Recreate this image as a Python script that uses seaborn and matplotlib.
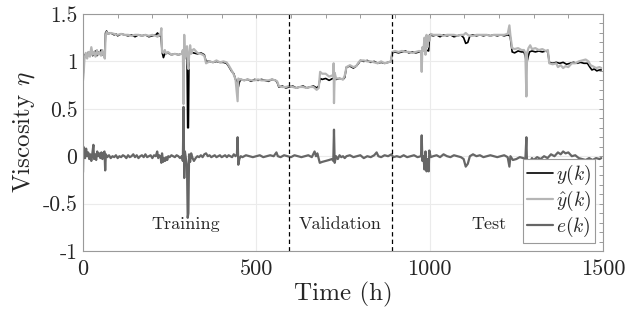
import matplotlib
matplotlib.use("Agg")
import matplotlib.pyplot as plt
import seaborn as sns
import pandas as pd
from matplotlib.ticker import MultipleLocator

# ---------------- data ----------------
t_y = [0, 2, 4, 8, 12, 16, 20, 24, 28, 32, 36, 40, 44, 48, 52, 56, 60, 63, 65, 68, 72,
       80, 90, 95, 100, 110, 120, 130, 140, 150, 160, 170, 180, 190, 200, 210, 215, 220,
       225, 228, 232, 236, 245, 255, 265, 275, 285, 295, 300, 302, 304, 306, 310, 318,
       330, 340, 350, 355, 365, 375, 385, 395, 405, 414, 420, 428, 435, 440, 446, 448,
       451, 455, 465, 475, 485, 495, 505, 515, 525, 535, 545, 555, 560, 565, 575, 585,
       595, 605, 615, 625, 635, 645, 655, 665, 674, 680, 684, 690, 700, 710, 720, 730,
       740, 750, 755, 760, 770, 780, 788, 795, 800, 810, 820, 830, 840, 850, 860, 870,
       880, 888, 892, 900, 910, 920, 930, 940, 950, 960, 970, 980, 990, 997, 1000, 1010,
       1020, 1030, 1040, 1050, 1060, 1070, 1080, 1090, 1098, 1104, 1110, 1116, 1125,
       1135, 1145, 1155, 1165, 1175, 1185, 1195, 1205, 1215, 1225, 1232, 1238, 1245,
       1255, 1265, 1272, 1276, 1280, 1284, 1288, 1295, 1305, 1315, 1325, 1335, 1341,
       1345, 1355, 1365, 1375, 1385, 1395, 1405, 1415, 1425, 1435, 1445, 1455, 1462,
       1468, 1475, 1482, 1490, 1495]
y = [0.85, 0.95, 1.06, 1.08, 1.05, 1.10, 1.07, 1.12, 1.06, 1.09, 1.11, 1.06, 1.10, 1.08,
     1.12, 1.07, 1.09, 1.10, 1.30, 1.32, 1.29, 1.30, 1.28, 1.29, 1.27, 1.29, 1.28, 1.27,
     1.28, 1.26, 1.28, 1.27, 1.28, 1.26, 1.27, 1.28, 1.30, 1.27, 1.28, 1.10, 1.04, 1.08,
     1.09, 1.07, 1.08, 1.07, 1.08, 1.08, 1.06, 0.30, 0.30, 1.08, 1.10, 1.09, 1.08, 1.09,
     1.07, 1.00, 1.00, 0.99, 1.00, 0.99, 0.99, 0.98, 0.95, 0.90, 0.87, 0.81, 0.78, 0.73,
     0.78, 0.81, 0.80, 0.81, 0.79, 0.81, 0.80, 0.81, 0.80, 0.79, 0.81, 0.80, 0.78, 0.73,
     0.74, 0.72, 0.73, 0.74, 0.72, 0.73, 0.74, 0.72, 0.73, 0.74, 0.72, 0.74, 0.82, 0.81,
     0.82, 0.80, 0.82, 0.81, 0.82, 0.81, 0.83, 0.94, 0.95, 0.93, 0.95, 0.98, 1.01, 1.00,
     1.01, 0.99, 1.00, 0.98, 0.99, 0.98, 0.99, 1.00, 1.09, 1.10, 1.09, 1.10, 1.11, 1.09,
     1.10, 1.09, 1.10, 1.11, 1.12, 1.11, 1.28, 1.27, 1.28, 1.26, 1.28, 1.27, 1.28, 1.26,
     1.27, 1.28, 1.25, 1.19, 1.20, 1.27, 1.28, 1.27, 1.28, 1.27, 1.28, 1.27, 1.28, 1.27,
     1.28, 1.27, 1.28, 1.27, 1.10, 1.09, 1.11, 1.10, 1.10, 1.05, 0.98, 1.05, 1.10, 1.11,
     1.10, 1.11, 1.10, 1.11, 1.10, 0.99, 0.98, 0.99, 0.98, 0.99, 0.97, 0.98, 0.99, 0.98,
     0.99, 0.98, 0.98, 0.94, 0.91, 0.92, 0.90, 0.91, 0.91]

t_yhat = [0, 2, 4, 8, 12, 16, 20, 24, 28, 32, 36, 40, 44, 48, 52, 56, 60, 63, 65, 68, 72,
          80, 90, 100, 110, 120, 130, 140, 150, 160, 170, 180, 190, 200, 210, 215, 220,
          224, 226, 228, 232, 236, 240, 245, 255, 265, 275, 285, 288, 290, 292, 294, 297,
          300, 302, 304, 306, 309, 312, 316, 320, 330, 340, 350, 355, 365, 375, 385, 395,
          405, 414, 420, 428, 435, 440, 446, 448, 451, 455, 465, 475, 485, 495, 505, 515,
          525, 535, 545, 555, 560, 565, 575, 585, 595, 605, 615, 625, 635, 645, 655, 665,
          674, 680, 684, 690, 700, 710, 718, 722, 723, 724, 726, 730, 740, 750, 755, 760,
          770, 780, 788, 795, 800, 810, 820, 830, 840, 850, 860, 870, 880, 888, 892, 900,
          910, 920, 930, 940, 950, 960, 970, 975, 977, 979, 982, 985, 988, 991, 994, 997,
          999, 1003, 1010, 1020, 1030, 1040, 1050, 1060, 1070, 1080, 1090, 1098, 1104,
          1110, 1116, 1125, 1135, 1145, 1155, 1165, 1175, 1185, 1195, 1205, 1215, 1225,
          1230, 1233, 1238, 1245, 1255, 1265, 1272, 1276, 1279, 1281, 1285, 1290, 1295,
          1305, 1315, 1325, 1335, 1341, 1345, 1355, 1365, 1370, 1378, 1385, 1392, 1400,
          1410, 1420, 1430, 1440, 1450, 1458, 1464, 1470, 1480, 1490, 1495]
yhat = [0.80, 0.88, 1.02, 1.09, 1.03, 1.10, 1.05, 1.15, 1.07, 1.10, 1.05, 1.12, 1.07,
        1.10, 1.06, 1.12, 1.06, 1.03, 1.26, 1.31, 1.29, 1.30, 1.29, 1.28, 1.29, 1.28,
        1.28, 1.27, 1.28, 1.28, 1.27, 1.28, 1.27, 1.28, 1.27, 1.26, 1.28, 1.29, 1.35,
        1.10, 1.09, 1.12, 1.08, 1.10, 1.07, 1.08, 1.07, 1.08, 1.12, 0.55, 1.28, 1.03,
        1.12, 1.16, 0.98, 0.92, 1.06, 1.17, 1.08, 1.12, 1.13, 1.09, 1.08, 1.06, 0.98,
        1.00, 0.99, 1.01, 0.99, 1.00, 0.99, 0.96, 0.91, 0.86, 0.81, 0.58, 0.82, 0.81,
        0.81, 0.80, 0.81, 0.80, 0.80, 0.81, 0.80, 0.80, 0.80, 0.81, 0.80, 0.79, 0.74,
        0.73, 0.73, 0.74, 0.73, 0.72, 0.73, 0.73, 0.72, 0.73, 0.73, 0.70, 0.72, 0.89,
        0.87, 0.87, 0.84, 0.85, 0.86, 0.98, 0.56, 0.88, 0.82, 0.82, 0.81, 0.85, 0.94,
        0.96, 0.94, 0.95, 0.99, 1.01, 1.01, 1.00, 1.00, 0.99, 0.98, 1.00, 0.98, 0.99,
        1.00, 1.10, 1.11, 1.10, 1.11, 1.10, 1.10, 1.09, 1.10, 1.11, 1.10, 0.89, 1.15,
        1.11, 1.25, 1.07, 1.28, 1.15, 1.27, 1.22, 1.29, 1.28, 1.28, 1.28, 1.27, 1.28,
        1.28, 1.28, 1.27, 1.28, 1.28, 1.30, 1.28, 1.27, 1.27, 1.28, 1.28, 1.28, 1.28,
        1.27, 1.28, 1.28, 1.28, 1.28, 1.29, 1.38, 1.27, 1.14, 1.13, 1.14, 1.12, 1.12,
        1.09, 0.63, 1.09, 1.14, 1.17, 1.13, 1.14, 1.12, 1.13, 1.11, 1.12, 0.98, 0.97,
        0.98, 0.94, 0.96, 0.93, 0.95, 0.94, 0.98, 0.98, 1.00, 1.01, 1.02, 1.00, 0.96,
        0.95, 0.93, 0.94, 0.93]

t_e = [0, 1, 3, 6, 9, 12, 15, 18, 21, 24, 27, 30, 32, 35, 38, 41, 44, 47, 50, 53, 56,
       59, 62, 64, 66, 70, 75, 80, 85, 90, 95, 100, 105, 110, 115, 120, 125, 130, 135,
       140, 145, 150, 155, 160, 165, 170, 175, 180, 185, 190, 195, 200, 205, 210, 214,
       217, 220, 224, 226, 228, 231, 234, 237, 240, 243, 246, 250, 255, 260, 265, 270,
       275, 280, 285, 288, 290, 292, 294, 297, 300, 302, 304, 306, 309, 312, 316, 320,
       325, 330, 335, 340, 345, 350, 355, 360, 365, 370, 375, 380, 385, 390, 395, 400,
       405, 410, 415, 420, 425, 430, 435, 440, 444, 446, 448, 451, 455, 460, 470, 480,
       490, 500, 510, 520, 530, 540, 550, 558, 562, 570, 580, 590, 600, 610, 620, 630,
       640, 650, 660, 668, 672, 676, 683, 690, 700, 710, 718, 722, 724, 726, 730, 735,
       740, 745, 750, 755, 760, 770, 780, 790, 800, 810, 820, 830, 840, 847, 852, 860,
       870, 880, 890, 895, 905, 915, 925, 935, 945, 955, 965, 975, 977, 979, 982, 985,
       988, 991, 994, 997, 999, 1003, 1010, 1020, 1030, 1040, 1050, 1060, 1070, 1080,
       1090, 1098, 1104, 1110, 1116, 1125, 1135, 1145, 1155, 1165, 1175, 1185, 1195,
       1205, 1215, 1225, 1230, 1233, 1240, 1250, 1260, 1270, 1276, 1279, 1281, 1285,
       1290, 1295, 1300, 1310, 1320, 1330, 1340, 1350, 1360, 1370, 1378, 1385, 1392,
       1400, 1410, 1420, 1430, 1440, 1450, 1460, 1470, 1480, 1490, 1495]
e = [-0.17, 0.10, 0.05, -0.02, 0.08, 0.00, 0.04, -0.03, 0.02, -0.05, 0.03, 0.12, -0.03,
     0.02, -0.04, 0.05, 0.00, 0.03, -0.02, 0.04, -0.03, 0.03, 0.05, -0.15, 0.02, -0.01,
     0.01, -0.02, 0.00, -0.01, 0.01, -0.02, 0.00, -0.01, 0.01, 0.00, -0.02, 0.01, -0.01,
     0.00, 0.02, -0.01, 0.01, -0.02, 0.00, 0.01, -0.01, 0.02, -0.01, 0.00, 0.01, -0.02,
     0.01, 0.00, 0.05, -0.02, 0.01, -0.01, -0.07, 0.03, -0.06, -0.02, -0.05, -0.01,
     -0.04, 0.00, -0.01, 0.01, 0.00, -0.01, 0.01, 0.00, -0.02, 0.00, -0.05, 0.52, -0.23,
     0.05, -0.03, -0.10, -0.65, -0.60, 0.02, -0.06, 0.03, -0.02, -0.05, -0.02, 0.00,
     -0.01, 0.01, -0.01, 0.02, 0.03, 0.00, 0.01, -0.01, 0.00, 0.01, -0.01, 0.00, 0.01,
     -0.01, 0.00, 0.01, -0.01, 0.01, 0.00, -0.01, 0.02, 0.00, 0.02, 0.20, -0.09, -0.03,
     0.00, -0.01, 0.01, 0.00, -0.01, 0.00, 0.01, -0.01, 0.00, 0.01, 0.00, 0.04, 0.00,
     -0.01, 0.01, 0.00, -0.01, 0.01, 0.00, -0.01, 0.00, 0.01, -0.01, 0.05, 0.00, 0.03,
     -0.07, -0.06, -0.05, -0.04, -0.03, -0.05, 0.28, -0.07, 0.00, -0.03, 0.01, -0.01,
     0.00, -0.02, 0.00, 0.01, -0.01, 0.00, 0.01, -0.02, 0.00, -0.01, 0.01, 0.04, 0.00,
     -0.01, 0.01, 0.00, 0.02, -0.01, 0.00, -0.01, 0.01, -0.01, 0.00, 0.01, -0.01, 0.00,
     0.22, -0.05, 0.00, -0.14, 0.05, -0.16, -0.03, -0.16, 0.06, -0.01, 0.00, 0.01,
     -0.01, 0.02, 0.00, -0.01, 0.01, 0.00, -0.01, -0.03, -0.11, -0.08, 0.00, 0.02, 0.00,
     0.01, -0.01, 0.00, 0.01, 0.00, -0.01, 0.00, 0.01, -0.01, -0.11, 0.00, -0.04, -0.03,
     -0.01, -0.02, -0.04, 0.20, -0.11, -0.04, -0.06, -0.02, -0.04, -0.01, -0.03, 0.00,
     -0.02, 0.02, 0.00, 0.04, 0.02, 0.05, 0.03, 0.04, 0.00, 0.01, -0.02, -0.03, -0.04,
     -0.02, -0.04, -0.02, -0.03, -0.02]

split_times = [595, 892]
section_names = ["Training", "Validation", "Test"]
section_x = [297, 741, 1171]
section_y = -0.72
x_ticks = [0, 500, 1000, 1500]
x_tick_labels = ["0", "500", "1000", "1500"]
y_ticks = [-1, -0.5, 0, 0.5, 1, 1.5]
y_tick_labels = ["-1", "-0.5", "0", "0.5", "1", "1.5"]
series_labels = [r"$y(k)$", r"$\hat{y}(k)$", r"$e(k)$"]

# ---------------- style ----------------
sns.set_theme(style="white")
plt.rcParams["font.family"] = ["cmr10", "DejaVu Serif"]
plt.rcParams["mathtext.fontset"] = "cm"
plt.rcParams["axes.unicode_minus"] = False

fig = plt.figure(figsize=(6.28, 3.2), dpi=100)
ax = fig.add_axes([83 / 628, 69 / 320, 520 / 628, 237 / 320])

df_y = pd.DataFrame({"t": t_y, "v": y})
df_yh = pd.DataFrame({"t": t_yhat, "v": yhat})
df_e = pd.DataFrame({"t": t_e, "v": e})

sns.lineplot(data=df_y, x="t", y="v", ax=ax, color="black", lw=1.2,
             estimator=None, label=series_labels[0])
sns.lineplot(data=df_yh, x="t", y="v", ax=ax, color="#b5b5b5", lw=1.6,
             estimator=None, label=series_labels[1])
sns.lineplot(data=df_e, x="t", y="v", ax=ax, color="#666666", lw=1.6,
             estimator=None, label=series_labels[2])

for s in split_times:
    ax.axvline(s, color="black", lw=0.9, ls=(0, (3.5, 2.5)))

for name, xs in zip(section_names, section_x):
    ax.text(xs, section_y, name, ha="center", va="center", fontsize=13)

ax.set_xlim(0, 1500)
ax.set_ylim(-1, 1.5)
ax.set_xticks(x_ticks)
ax.set_xticklabels(x_tick_labels)
ax.set_yticks(y_ticks)
ax.set_yticklabels(y_tick_labels)
ax.xaxis.set_minor_locator(MultipleLocator(100))
ax.yaxis.set_minor_locator(MultipleLocator(0.1))
ax.tick_params(which="both", direction="in", top=True, right=True,
               color="#9a9a9a", length=3, width=0.7)
ax.tick_params(axis="x", which="major", labelsize=16, pad=6)
ax.tick_params(axis="y", which="major", labelsize=15.5, pad=4)
ax.grid(True, which="major", color="#ebebeb", lw=0.8)
ax.set_axisbelow(True)
for sp in ax.spines.values():
    sp.set_color("#9a9a9a")
    sp.set_linewidth(0.8)

ax.set_xlabel("Time (h)", fontsize=18, labelpad=2)
ax.set_ylabel(r"Viscosity $\eta$", fontsize=18, labelpad=4)

leg = ax.legend(loc="lower right", fontsize=14, frameon=True, fancybox=False,
                edgecolor="#9a9a9a", framealpha=1, handlelength=1.3,
                handletextpad=0.2, borderpad=0.2, labelspacing=0.1,
                borderaxespad=0.4)
leg.get_frame().set_linewidth(0.8)

fig.savefig("out.png", dpi=100)
